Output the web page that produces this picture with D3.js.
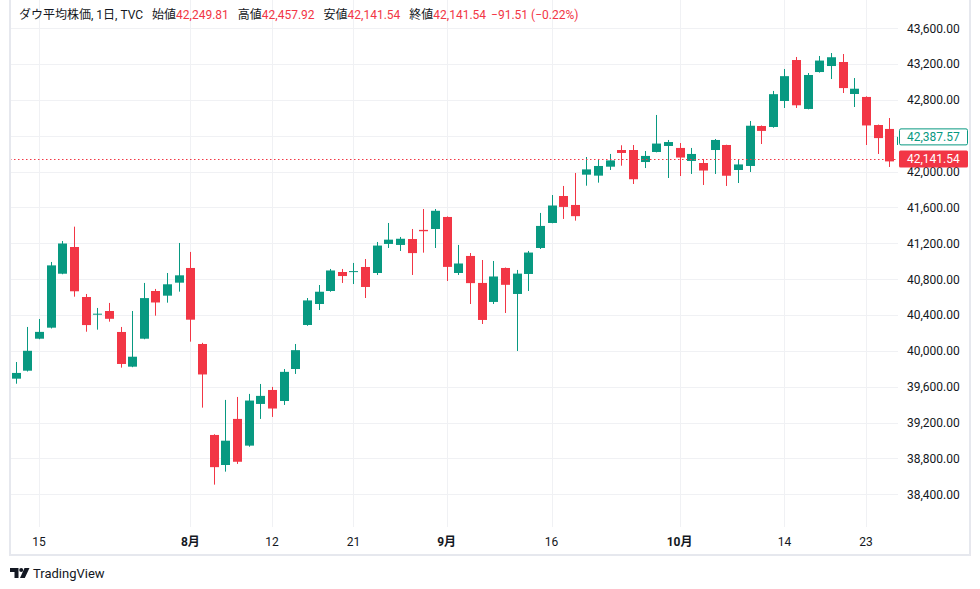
<!DOCTYPE html>
<html>
<head>
<meta charset="utf-8">
<script src="https://cdn.jsdelivr.net/npm/d3@7"></script>
<style>
    body { margin: 0; background: #ffffff; }
    text { font-family: Roboto, "Noto Sans CJK JP", sans-serif; }
</style>
</head>
<body>
<div id="chart"></div>
<script>
// daily candles, TVC DJI (Jul 11 - Oct 28 2024)
const dates = [
    '2024-07-11', '2024-07-12', '2024-07-15', '2024-07-16', '2024-07-17', '2024-07-18', '2024-07-19',
    '2024-07-22', '2024-07-23', '2024-07-24', '2024-07-25', '2024-07-26', '2024-07-29', '2024-07-30',
    '2024-07-31', '2024-08-01', '2024-08-02', '2024-08-05', '2024-08-06', '2024-08-07', '2024-08-08',
    '2024-08-09', '2024-08-12', '2024-08-13', '2024-08-14', '2024-08-15', '2024-08-16', '2024-08-19',
    '2024-08-20', '2024-08-21', '2024-08-22', '2024-08-23', '2024-08-26', '2024-08-27', '2024-08-28',
    '2024-08-29', '2024-08-30', '2024-09-03', '2024-09-04', '2024-09-05', '2024-09-06', '2024-09-09',
    '2024-09-10', '2024-09-11', '2024-09-12', '2024-09-13', '2024-09-16', '2024-09-17', '2024-09-18',
    '2024-09-19', '2024-09-20', '2024-09-23', '2024-09-24', '2024-09-25', '2024-09-26', '2024-09-27',
    '2024-09-30', '2024-10-01', '2024-10-02', '2024-10-03', '2024-10-04', '2024-10-07', '2024-10-08',
    '2024-10-09', '2024-10-10', '2024-10-11', '2024-10-14', '2024-10-15', '2024-10-16', '2024-10-17',
    '2024-10-18', '2024-10-21', '2024-10-22', '2024-10-23', '2024-10-24', '2024-10-25', '2024-10-28'
]
const openVals = [
    39690, 39779, 40136, 40259, 40861, 41159, 40601, 40410, 40445, 40211, 39824, 40136, 40668, 40616,
    40761, 40925, 40077, 39062, 38727, 39241, 38943, 39408, 39564, 39441, 39798, 40289, 40523, 40668,
    40880, 40880, 40936, 40869, 41193, 41182, 41248, 41350, 41360, 41494, 40869, 41059, 40758, 40546,
    40925, 40635, 40858, 41148, 41427, 41728, 41628, 41966, 41955, 42055, 42241, 42241, 42107, 42219,
    42286, 42264, 42119, 42096, 42241, 42297, 42018, 42063, 42509, 42498, 42788, 43245, 42699, 43111,
    43178, 43223, 42866, 42833, 42520, 42476, 42297
]
const highVals = [
    39876, 40267, 40356, 40992, 41226, 41386, 40635, 40479, 40535, 40267, 40445, 40758, 40691, 40869,
    41204, 41104, 40090, 39070, 39453, 39486, 39520, 39631, 39598, 39798, 40077, 40590, 40735, 40914,
    40914, 40981, 41025, 41215, 41427, 41271, 41360, 41583, 41583, 41500, 41182, 41092, 41014, 41003,
    40930, 40903, 41115, 41539, 41739, 41840, 41985, 42163, 42141, 42197, 42294, 42297, 42230, 42632,
    42353, 42319, 42264, 42141, 42364, 42300, 42130, 42565, 42515, 42900, 43145, 43279, 43100, 43290,
    43323, 43312, 43044, 42840, 42525, 42598, 42470
]
const lowVals = [
    39634, 39770, 40130, 40250, 40855, 40605, 40214, 40237, 40326, 39813, 39818, 40130, 40393, 40538,
    40661, 40103, 39367, 38508, 38653, 38739, 38931, 39241, 39263, 39397, 39743, 40280, 40456, 40660,
    40758, 40746, 40590, 40847, 41148, 41115, 40847, 41096, 41148, 40780, 40847, 40523, 40300, 40523,
    40423, 39999, 40668, 41137, 41424, 41472, 41453, 41843, 41877, 42018, 42066, 41862, 42040, 42215,
    41929, 41951, 41974, 41851, 41974, 41840, 41873, 41996, 42308, 42490, 42710, 42710, 42695, 43105,
    43033, 42877, 42721, 42297, 42197, 42052, 42260
]
const closeVals = [
    39754, 40001, 40212, 40954, 41198, 40665, 40288, 40415, 40358, 39854, 39935, 40589, 40540, 40743,
    40843, 40348, 39737, 38703, 38998, 38763, 39446, 39498, 39357, 39766, 40008, 40563, 40660, 40897,
    40835, 40890, 40713, 41175, 41241, 41251, 41091, 41335, 41563, 40937, 40975, 40756, 40345, 40830,
    40737, 40862, 41097, 41394, 41622, 41606, 41503, 42025, 42063, 42125, 42208, 41915, 42175, 42313,
    42330, 42157, 42197, 42012, 42353, 41954, 42080, 42512, 42454, 42864, 43065, 42740, 43078, 43239,
    43276, 42932, 42925, 42515, 42374, 42114, 42388
]

// axis ticks
const priceTicks = [38400, 38800, 39200, 39600, 40000, 40400, 40800, 41200, 41600, 42000, 42400, 42800, 43200, 43600]
const timeTicks = ['2024-07-15', '2024-08-01', '2024-08-12', '2024-08-21', '2024-09-03', '2024-09-16', '2024-10-01', '2024-10-14', '2024-10-23']
const timeTickLabels = ['15', '8月', '12', '21', '9月', '16', '10月', '14', '23']

// legend and price labels
const titleText = 'ダウ平均株価, 1日, TVC'
const legendNames = ['始値', '高値', '安値', '終値']
const legendValues = ['42,249.81', '42,457.92', '42,141.54', '42,141.54']
const changeText = '−91.51 (−0.22%)'
const lastPrice = 42141.54
const prevPrice = 42387.57

const width = 980,
    height = 589,
    plot = { left: 10, right: 898, top: 0, bottom: 527 }

const upColor = '#089981',
    downColor = '#F23645',
    gridColor = '#f0f1f4',
    textColor = '#131722'

let svg = d3.select('#chart')
    .append('svg')
    .attr('width', width)
    .attr('height', height)

//scales
let xScale = d3.scaleBand()
    .domain(dates)
    .range([9.87, 9.87 + dates.length * 11.648])
    .padding(0)

let yScale = d3.scaleLinear()
    .domain([38400, 43600])
    .range([494.3, 28.2])

const cx = d => xScale(d) + xScale.bandwidth() / 2

//grid lines
svg.append('g')
    .selectAll('line')
    .data(priceTicks)
    .enter().append('line')
    .attr('x1', plot.left)
    .attr('x2', plot.right)
    .attr('y1', d => Math.round(yScale(d)) + 0.5)
    .attr('y2', d => Math.round(yScale(d)) + 0.5)
    .style('stroke', gridColor)

svg.append('g')
    .selectAll('line')
    .data(timeTicks)
    .enter().append('line')
    .attr('x1', d => Math.round(cx(d)) + 0.5)
    .attr('x2', d => Math.round(cx(d)) + 0.5)
    .attr('y1', plot.top)
    .attr('y2', plot.bottom)
    .style('stroke', gridColor)

//candles
svg.append('clipPath')
    .attr('id', 'plot-clip')
    .append('rect')
    .attr('x', plot.left)
    .attr('y', plot.top)
    .attr('width', plot.right - plot.left)
    .attr('height', plot.bottom - plot.top)

let candles = svg.append('g')
    .attr('clip-path', 'url(#plot-clip)')
    .selectAll('.candle')
    .data(dates.map((d, i) => ({ date: d, o: openVals[i], h: highVals[i], l: lowVals[i], c: closeVals[i] })))
    .enter().append('g')
    .attr('class', 'candle')

candles.append('rect')
    .attr('x', d => Math.round(cx(d.date)))
    .attr('width', 1)
    .attr('y', d => yScale(d.h))
    .attr('height', d => yScale(d.l) - yScale(d.h))
    .style('fill', d => d.c >= d.o ? upColor : downColor)

const bodyW = 9
candles.append('rect')
    .attr('x', d => Math.round(cx(d.date)) - 4)
    .attr('width', bodyW)
    .attr('y', d => yScale(Math.max(d.o, d.c)))
    .attr('height', d => Math.max(1, Math.abs(yScale(d.o) - yScale(d.c))))
    .style('fill', d => d.c >= d.o ? upColor : downColor)

//last price dotted line
svg.append('line')
    .attr('x1', plot.left)
    .attr('x2', plot.right)
    .attr('y1', Math.round(yScale(lastPrice)) + 0.5)
    .attr('y2', Math.round(yScale(lastPrice)) + 0.5)
    .style('stroke', downColor)
    .style('stroke-width', 1)
    .style('stroke-dasharray', '1.5, 2.5')

//price axis
let yAxis = d3.axisRight(yScale)
    .tickValues(priceTicks)
    .tickSize(0)
    .tickPadding(9)
    .tickFormat(d3.format(',.2f'))

let yAxisG = svg.append('g')
    .attr('transform', `translate(${plot.right},0)`)
    .call(yAxis)
yAxisG.select('.domain').remove()
yAxisG.selectAll('text')
    .attr('font-size', 12)
    .attr('font-family', 'Roboto, sans-serif')
    .attr('fill', textColor)

//time axis
let xAxis = d3.axisBottom(xScale)
    .tickValues(timeTicks)
    .tickSize(0)
    .tickPadding(10)
    .tickFormat((d, i) => timeTickLabels[i])

let xAxisG = svg.append('g')
    .attr('transform', `translate(0,${plot.bottom})`)
    .call(xAxis)
xAxisG.select('.domain').remove()
xAxisG.selectAll('text')
    .attr('font-size', 12)
    .attr('font-family', 'Roboto, "Noto Sans CJK JP", sans-serif')
    .attr('font-weight', (d, i) => timeTickLabels[i].includes('月') ? 'bold' : 'normal')
    .attr('fill', textColor)

//price labels on the axis
svg.append('rect')
    .attr('x', 899.5)
    .attr('y', yScale(prevPrice) - 8)
    .attr('width', 68)
    .attr('height', 16)
    .attr('rx', 1.5)
    .style('fill', '#ffffff')
    .style('stroke', upColor)
svg.append('text')
    .attr('x', 907)
    .attr('y', yScale(prevPrice) + 4.5)
    .attr('font-size', 12)
    .attr('fill', upColor)
    .text(d3.format(',.2f')(prevPrice))

svg.append('rect')
    .attr('x', 899)
    .attr('y', yScale(lastPrice) - 8.5)
    .attr('width', 69)
    .attr('height', 17)
    .attr('rx', 1.5)
    .style('fill', downColor)
svg.append('text')
    .attr('x', 907)
    .attr('y', yScale(lastPrice) + 4.5)
    .attr('font-size', 12)
    .attr('fill', '#ffffff')
    .text(d3.format(',.2f')(lastPrice))

//frame
svg.append('rect')
    .attr('x', 10)
    .attr('y', -2)
    .attr('width', 960)
    .attr('height', 557)
    .style('fill', 'none')
    .style('stroke', '#e6e8ee')
    .style('stroke-width', 2)

//legend
let legend = svg.append('text')
    .attr('x', 19)
    .attr('y', 18.5)
    .attr('font-size', 12)
    .attr('fill', textColor)
legend.append('tspan').text(titleText)
legendNames.forEach((name, i) => {
    legend.append('tspan').attr('dx', 9).attr('fill', textColor).text(name)
    legend.append('tspan').attr('fill', downColor).text(legendValues[i])
})
legend.append('tspan').attr('dx', 5).attr('fill', downColor).text(changeText)

//TradingView logo
let logo = svg.append('g')
    .attr('transform', 'translate(10,568)')
    .style('fill', textColor)
logo.append('path').attr('d', 'M0,0 H8.5 V10 H4.5 V4 H0 Z')
logo.append('circle').attr('cx', 11.2).attr('cy', 2).attr('r', 2)
logo.append('path').attr('d', 'M14.5,0 H19.5 L14.8,10 H10 Z')
svg.append('text')
    .attr('x', 33)
    .attr('y', 578)
    .attr('font-size', 13)
    .attr('fill', textColor)
    .text('TradingView')
</script>
</body>
</html>
